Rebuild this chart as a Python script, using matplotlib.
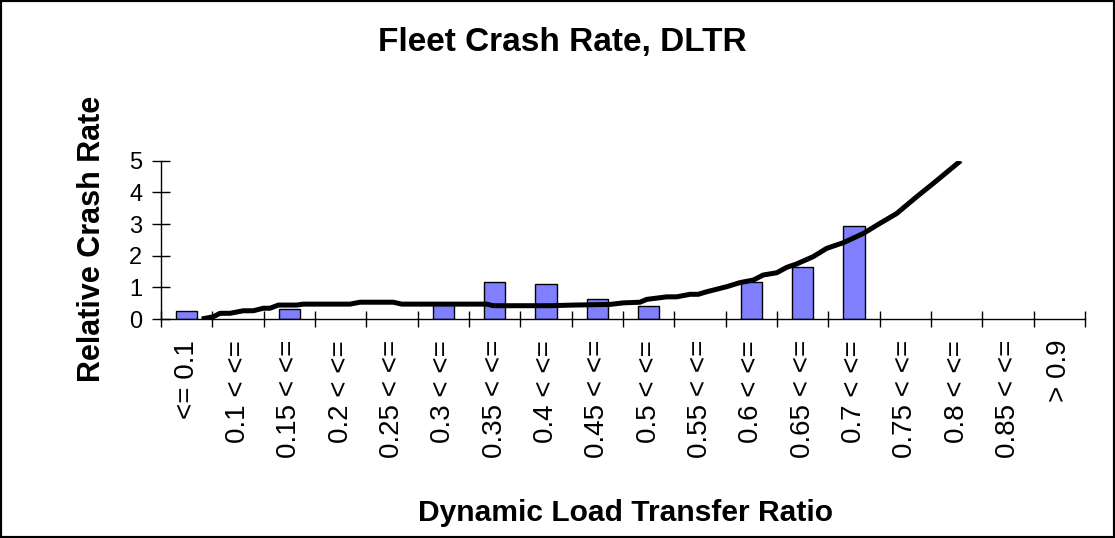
import matplotlib
matplotlib.use("Agg")
import matplotlib.pyplot as plt
import numpy as np
from matplotlib.patches import Rectangle

plt.rcParams['font.family'] = ['Liberation Sans', 'DejaVu Sans']

# Data
categories = ['<= 0.1', '0.1 < <=', '0.15 < <=', '0.2 < <=', '0.25 < <=', '0.3 < <=',
              '0.35 < <=', '0.4 < <=', '0.45 < <=', '0.5 < <=', '0.55 < <=', '0.6 < <=',
              '0.65 < <=', '0.7 < <=', '0.75 < <=', '0.8 < <=', '0.85 < <=', '> 0.9']
crash_rate = [0.26, 0, 0.31, 0, 0, 0.51, 1.17, 1.11, 0.62, 0.42, 0, 1.17,
              1.63, 2.93, 0, 0, 0, 0]

# fitted curve (DLTR value, relative crash rate)
curve_dltr = [0.0896, 0.1009, 0.1075, 0.1172, 0.1302, 0.1399, 0.1497, 0.1562, 0.1643,
              0.1822, 0.1886, 0.2341, 0.2438, 0.2763, 0.2844, 0.3672, 0.3737, 0.4289,
              0.4516, 0.4873, 0.5003, 0.5165, 0.5231, 0.5426, 0.5523, 0.5652, 0.5733,
              0.5815, 0.6010, 0.6140, 0.6269, 0.6366, 0.6497, 0.6594, 0.6692, 0.6853,
              0.6983, 0.7146, 0.7340, 0.7502, 0.7665, 0.7860, 0.8021, 0.8290]
curve_rate = [0.0, 0.07, 0.18, 0.18, 0.26, 0.26, 0.34, 0.34, 0.44,
              0.44, 0.47, 0.47, 0.53, 0.53, 0.47, 0.47, 0.42, 0.42,
              0.44, 0.46, 0.51, 0.53, 0.62, 0.70, 0.70, 0.78, 0.78,
              0.86, 1.02, 1.15, 1.23, 1.39, 1.46, 1.63, 1.74, 1.97,
              2.23, 2.41, 2.70, 3.02, 3.33, 3.86, 4.28, 5.0]

fig = plt.figure(figsize=(11.15, 5.38), dpi=100)
ax = fig.add_axes([161 / 1115, 1 - 319 / 538, (1085 - 161) / 1115, (319 - 160.7) / 538])

x = np.arange(len(categories))
vals = np.array(crash_rate)
shown = vals > 0
ax.bar(x[shown], vals[shown], width=0.42, color='#8080ff', edgecolor='black',
       linewidth=1.0, zorder=2)

# DLTR -> category position (category k spans 0.05+0.05k .. 0.1+0.05k)
pos = (np.array(curve_dltr) - 0.05) / 0.05 - 0.5
ax.plot(pos, curve_rate, color='black', linewidth=3.6, zorder=3, solid_capstyle='butt')

ax.set_xlim(-0.5, len(categories) - 0.5)
ax.set_ylim(0, 5)
ax.set_yticks(range(6))
ax.set_xticks(x)
ax.set_xticklabels(categories, rotation=90, va='top', ha='center', fontsize=20)
ax.set_xticks(np.arange(len(categories) + 1) - 0.5, minor=True)
ax.tick_params(axis='x', which='major', length=0, pad=15)
ax.tick_params(axis='x', which='minor', direction='inout', length=12, width=1.0)
ax.tick_params(axis='y', direction='inout', length=13, width=1.0, labelsize=17, pad=7)

for s in ['top', 'right']:
    ax.spines[s].set_visible(False)
ax.spines['left'].set_linewidth(1.0)
ax.spines['bottom'].set_linewidth(1.0)
ax.patch.set_visible(False)

fig.text(562 / 1115, 1 - 43 / 538, 'Fleet Crash Rate, DLTR', ha='center', va='center',
         fontsize=24, fontweight='bold')
fig.text(625 / 1115, 1 - 513 / 538, 'Dynamic Load Transfer Ratio', ha='center', va='center',
         fontsize=21.6, fontweight='bold')
fig.text(92 / 1115, 1 - 239 / 538, 'Relative Crash Rate', ha='center', va='center',
         rotation=90, fontsize=22, fontweight='bold')

fig.patches.append(Rectangle((0, 0), 1, 1, transform=fig.transFigure, fill=False,
                             edgecolor='black', linewidth=3))

plt.savefig('out.png', dpi=100)
